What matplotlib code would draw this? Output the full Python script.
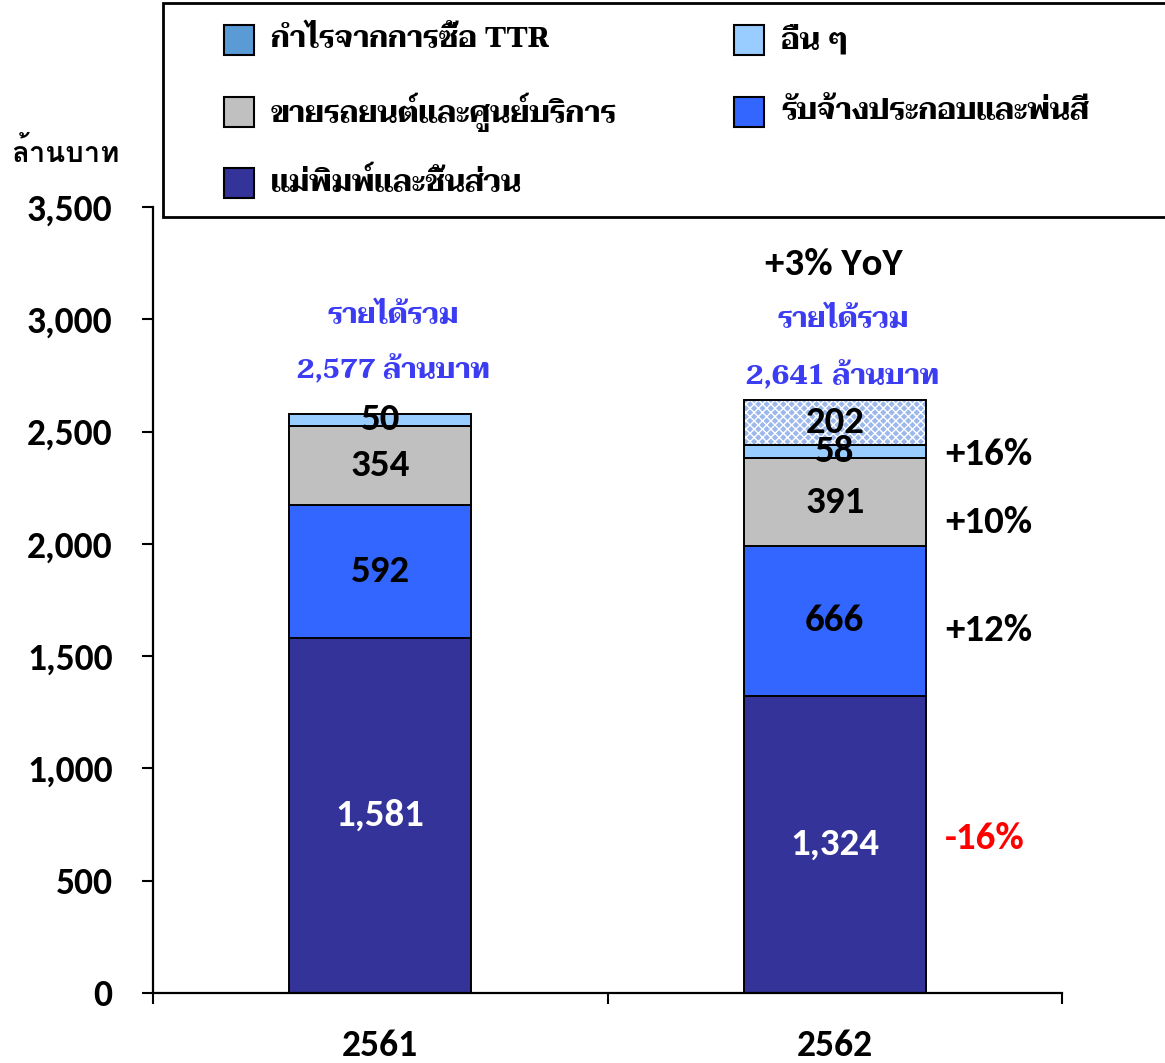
import matplotlib
matplotlib.use("Agg")
import matplotlib.pyplot as plt
from matplotlib.patches import Rectangle
import numpy as np

# ---------------- data ----------------
years = ["2561", "2562"]
molds = [1581, 1324]          # แม่พิมพ์และชิ้นส่วน
assembly = [592, 666]         # รับจ้างประกอบและพ่นสี
car_sales = [354, 391]        # ขายรถยนต์และศูนย์บริการ
others = [50, 58]             # อื่น ๆ
ttr_gain = [0, 202]           # กำไรจากการซื้อ TTR
totals = [2577, 2641]
growth_labels = ["+16%", "+10%", "+12%", "-16%"]
yticks = [0, 500, 1000, 1500, 2000, 2500, 3000, 3500]

series_names = ["แม่พิมพ์และชิ้นส่วน", "รับจ้างประกอบและพ่นสี", "ขายรถยนต์และศูนย์บริการ",
                "อื่น ๆ", "กำไรจากการซื้อ TTR"]

# ---------------- style ----------------
NUM = ["Carlito", "Lato", "DejaVu Sans"]
THAI_SERIF = ["Taviraj", "Liberation Serif", "DejaVu Serif"]
THAI_SANS = ["Loma", "Noto Sans Thai Looped", "DejaVu Sans"]
c_molds = "#333399"
c_assembly = "#3366FF"
c_car = "#C0C0C0"
c_other = "#99CCFF"
c_ttr_leg = "#5B9BD5"
c_ttr_fill = "#9DB9EC"
blue_txt = "#3C3CF2"

W, H = 1165, 1063
fig = plt.figure(figsize=(W / 100, H / 100), dpi=100)
ax = fig.add_axes([153 / W, 1 - 993 / H, (1062 - 153) / W, (993 - 207) / H])

x = np.arange(len(years))
bw = 0.4
ekw = dict(edgecolor="black", linewidth=1.4)

b0 = np.zeros(2)
ax.bar(x, molds, bw, bottom=b0, color=c_molds, **ekw)
b1 = b0 + np.array(molds)
ax.bar(x, assembly, bw, bottom=b1, color=c_assembly, **ekw)
b2 = b1 + np.array(assembly)
ax.bar(x, car_sales, bw, bottom=b2, color=c_car, **ekw)
b3 = b2 + np.array(car_sales)
ax.bar(x, others, bw, bottom=b3, color=c_other, **ekw)
b4 = b3 + np.array(others)
# hatched TTR segment (only where value > 0)
ttr = np.array(ttr_gain)
m = ttr > 0
ax.bar(x[m], ttr[m], bw, bottom=b4[m], color=c_ttr_fill, edgecolor="white",
       hatch="xxxx", linewidth=0)
ax.bar(x[m], ttr[m], bw, bottom=b4[m], fill=False, **ekw)

# segment value labels
def seg_labels(vals, bottoms, color):
    for xi, v, b in zip(x, vals, bottoms):
        if v > 0:
            ax.text(xi, b + v / 2, f"{v:,}", ha="center", va="center",
                    fontsize=28, fontweight="bold", color=color, family=NUM)

seg_labels(molds, b0, "white")
seg_labels(assembly, b1, "black")
seg_labels(car_sales, b2, "black")
seg_labels(others, b3, "black")
seg_labels(ttr_gain, b4, "black")

# totals above the bars
tot_x = [0.028, 1.018]
tot_y1 = [3015, 2997]
tot_y2 = [2783, 2756]
for i in range(2):
    ax.text(tot_x[i], tot_y1[i], "รายได้รวม", ha="center", va="center",
            fontsize=20, fontweight="bold", color=blue_txt, family=THAI_SERIF)
    ax.text(tot_x[i], tot_y2[i], f"{totals[i]:,} ล้านบาท", ha="center", va="center",
            fontsize=20, fontweight="bold", color=blue_txt, family=THAI_SERIF)
ax.text(0.999, 3242, "+3% YoY", ha="center", va="center", fontsize=28,
        fontweight="bold", color="black", family=NUM)

# growth labels
g_y = [2396, 2093, 1616, 690]
g_col = ["black", "black", "black", "red"]
for lab, yy, cc in zip(growth_labels, g_y, g_col):
    ax.text(1.243, yy, lab, ha="left", va="center", fontsize=28,
            fontweight="bold", color=cc, family=NUM)

# axes
ax.set_xlim(-0.5, 1.5)
ax.set_ylim(0, 3500)
ax.set_yticks(yticks)
ax.set_yticklabels([f"{v:,}" for v in yticks], family=NUM, fontsize=27, fontweight="bold")
ax.set_xticks(x)
ax.set_xticklabels(years, family=NUM, fontsize=27, fontweight="bold")
ax.set_xticks([-0.5, 0.5, 1.5], minor=True)
ax.tick_params(axis="x", which="major", length=0, pad=26)
ax.tick_params(axis="x", which="minor", length=8, width=1.5, direction="out")
ax.tick_params(axis="y", which="major", length=8, width=1.5, direction="out", pad=21)
for s in ["top", "right"]:
    ax.spines[s].set_visible(False)
for s in ["left", "bottom"]:
    ax.spines[s].set_linewidth(1.6)

# y unit label
fig.text(65 / W, 1 - 153 / H, "ล้านบาท", ha="center", va="center", fontsize=21,
         fontweight="bold", family=THAI_SANS)

# legend box (figure coordinates)
fig.patches.append(Rectangle((163 / W, 1 - 217 / H), 1.2, 214 / H, transform=fig.transFigure,
                             facecolor="white", edgecolor="black", linewidth=2, zorder=5))
leg_items = [  # (name, colour, swatch-left px, centre-y px)
    (series_names[4], c_ttr_leg, 224, 40),
    (series_names[3], c_other, 734, 40),
    (series_names[2], c_car, 224, 112),
    (series_names[1], c_assembly, 734, 112),
    (series_names[0], c_molds, 224, 183),
]
for name, col, lx, cy in leg_items:
    fig.patches.append(Rectangle((lx / W, 1 - (cy + 15) / H), 30 / W, 30 / H,
                                 transform=fig.transFigure, facecolor=col,
                                 edgecolor="black", linewidth=1.5, zorder=6))
    fig.text((lx + 47) / W, 1 - cy / H, name, ha="left", va="center", fontsize=21,
             fontweight="bold", family=THAI_SERIF, zorder=7)

fig.savefig("out.png", dpi=100)
